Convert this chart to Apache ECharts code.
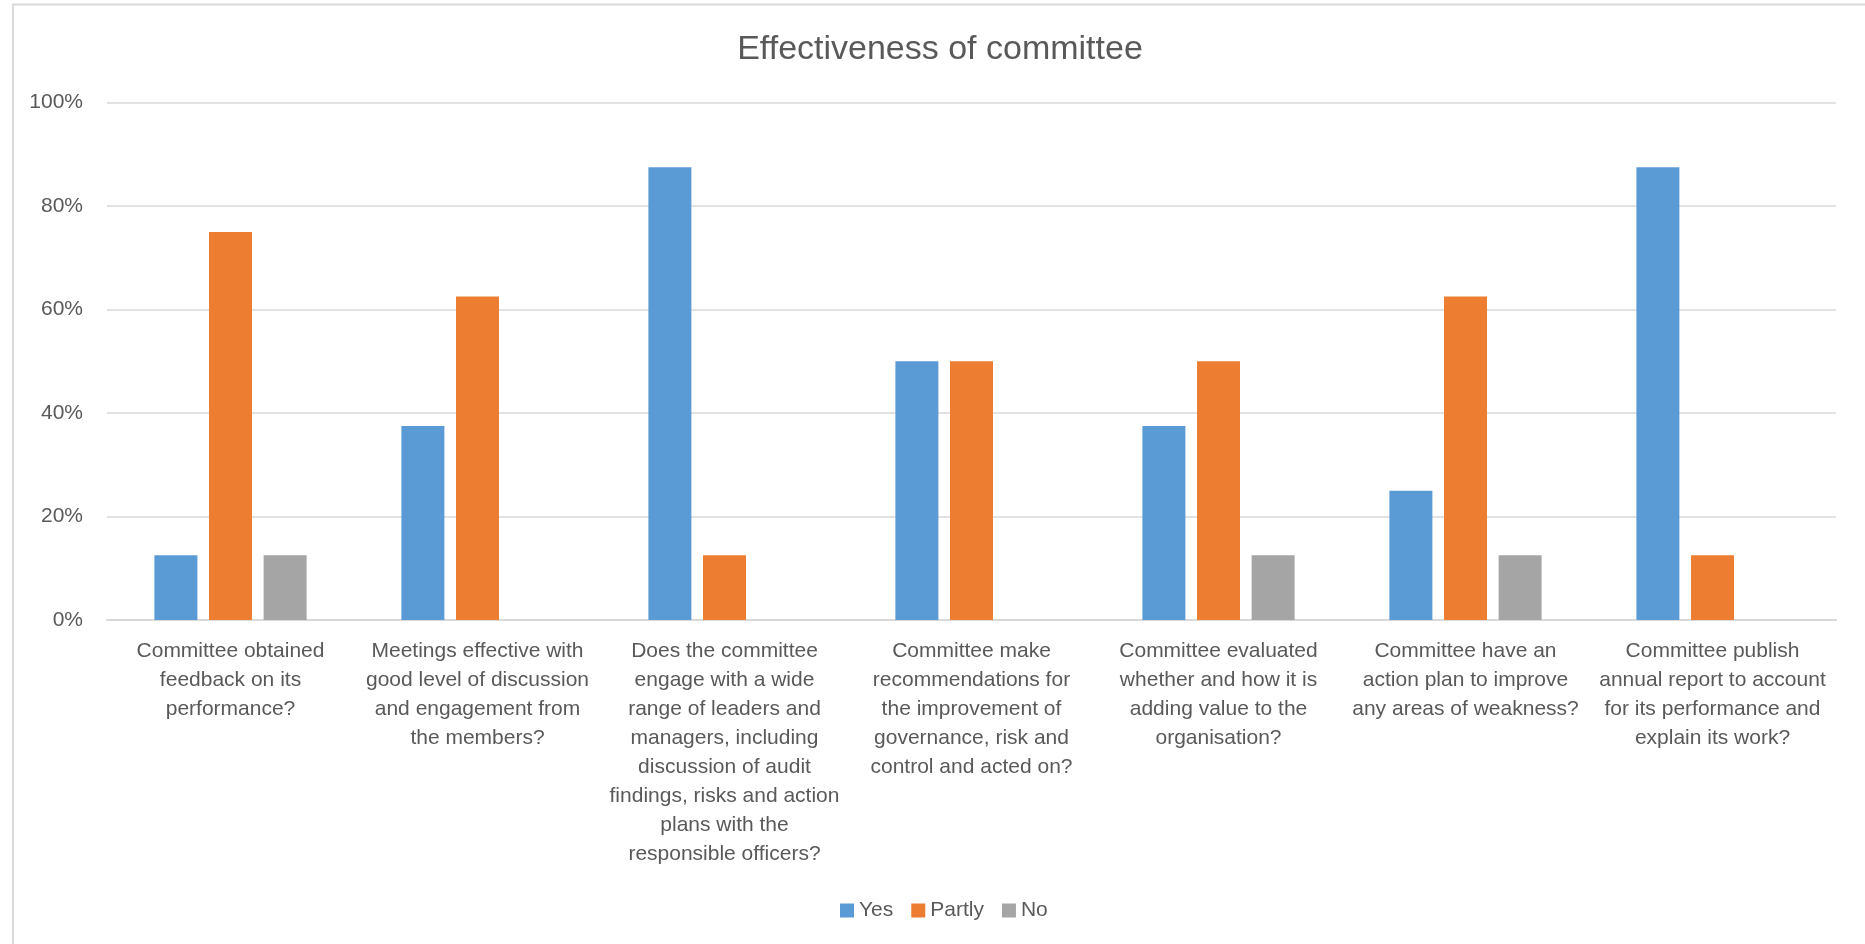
<!DOCTYPE html>
<html>
<head>
<meta charset="utf-8">
<title>Effectiveness of committee</title>
<script src="https://cdn.jsdelivr.net/npm/echarts@6/dist/echarts.min.js"></script>
<style>
  html, body { margin: 0; padding: 0; background: #ffffff; }
  #chart { width: 1865px; height: 944px; }
</style>
</head>
<body>
<div id="chart"></div>
<script>
// Survey questions (line breaks as they wrap under each group)
const categories = [
  'Committee obtained\nfeedback on its\nperformance?',
  'Meetings effective with\ngood level of discussion\nand engagement from\nthe members?',
  'Does the committee\nengage with a wide\nrange of leaders and\nmanagers, including\ndiscussion of audit\nfindings, risks and action\nplans with the\nresponsible officers?',
  'Committee make\nrecommendations for\nthe improvement of\ngovernance, risk and\ncontrol and acted on?',
  'Committee evaluated\nwhether and how it is\nadding value to the\norganisation?',
  'Committee have an\naction plan to improve\nany areas of weakness?',
  'Committee publish\nannual report to account\nfor its performance and\nexplain its work?'
];

// Share of responses, in percent
const yesValues    = [12.5, 37.5, 87.5, 50, 37.5, 25, 87.5];
const partlyValues = [75, 62.5, 12.5, 50, 50, 62.5, 12.5];
const noValues     = [12.5, 0, 0, 0, 12.5, 12.5, 0];

const seriesNames = ['Yes', 'Partly', 'No'];
const yTicks = [0, 20, 40, 60, 80, 100];

const FONT = '"Liberation Sans", Arial, sans-serif';
const TEXT = '#595959';
const GRID = '#d9d9d9';

const chart = echarts.init(document.getElementById('chart'), null, { renderer: 'canvas' });

function barSeries(name, data, color) {
  return {
    name: name,
    type: 'bar',
    data: data,
    barWidth: 43,
    barGap: '27%',
    itemStyle: { color: color },
    emphasis: { disabled: true }
  };
}

chart.setOption({
  backgroundColor: '#ffffff',
  animation: false,
  textStyle: { fontFamily: FONT },
  title: {
    text: 'Effectiveness of committee',
    left: 940,
    textAlign: 'center',
    top: 33,
    padding: 0,
    textStyle: { fontFamily: FONT, fontSize: 34, fontWeight: 'normal', color: TEXT }
  },
  legend: {
    data: seriesNames,
    left: 840,
    top: 900,
    padding: 0,
    itemWidth: 14,
    itemHeight: 14,
    itemGap: 18,
    icon: 'rect',
    textStyle: { fontFamily: FONT, fontSize: 21, color: TEXT }
  },
  grid: {
    left: 107,
    right: 29,
    top: 102.5,
    bottom: 324,
    containLabel: false
  },
  xAxis: {
    type: 'category',
    data: categories,
    axisLine: { show: true, lineStyle: { color: GRID, width: 2 } },
    axisTick: { show: false },
    axisLabel: {
      interval: 0,
      margin: 17,
      fontFamily: FONT,
      fontSize: 21,
      lineHeight: 29,
      color: TEXT,
      align: 'center'
    }
  },
  yAxis: {
    type: 'value',
    min: yTicks[0],
    max: yTicks[yTicks.length - 1],
    interval: 20,
    axisLine: { show: false },
    axisTick: { show: false },
    splitLine: { lineStyle: { color: GRID, width: 1.5 } },
    axisLabel: {
      margin: 24,
      fontFamily: FONT,
      fontSize: 21,
      color: TEXT,
      formatter: '{value}%'
    }
  },
  graphic: [
    {
      type: 'line',
      shape: { x1: 12, y1: 4.5, x2: 1865, y2: 4.5 },
      style: { stroke: GRID, lineWidth: 2 },
      silent: true
    },
    {
      type: 'line',
      shape: { x1: 13, y1: 4, x2: 13, y2: 944 },
      style: { stroke: GRID, lineWidth: 2 },
      silent: true
    }
  ],
  series: [
    barSeries(seriesNames[0], yesValues, '#5b9bd5'),
    barSeries(seriesNames[1], partlyValues, '#ed7d31'),
    barSeries(seriesNames[2], noValues, '#a5a5a5')
  ]
});
</script>
</body>
</html>
